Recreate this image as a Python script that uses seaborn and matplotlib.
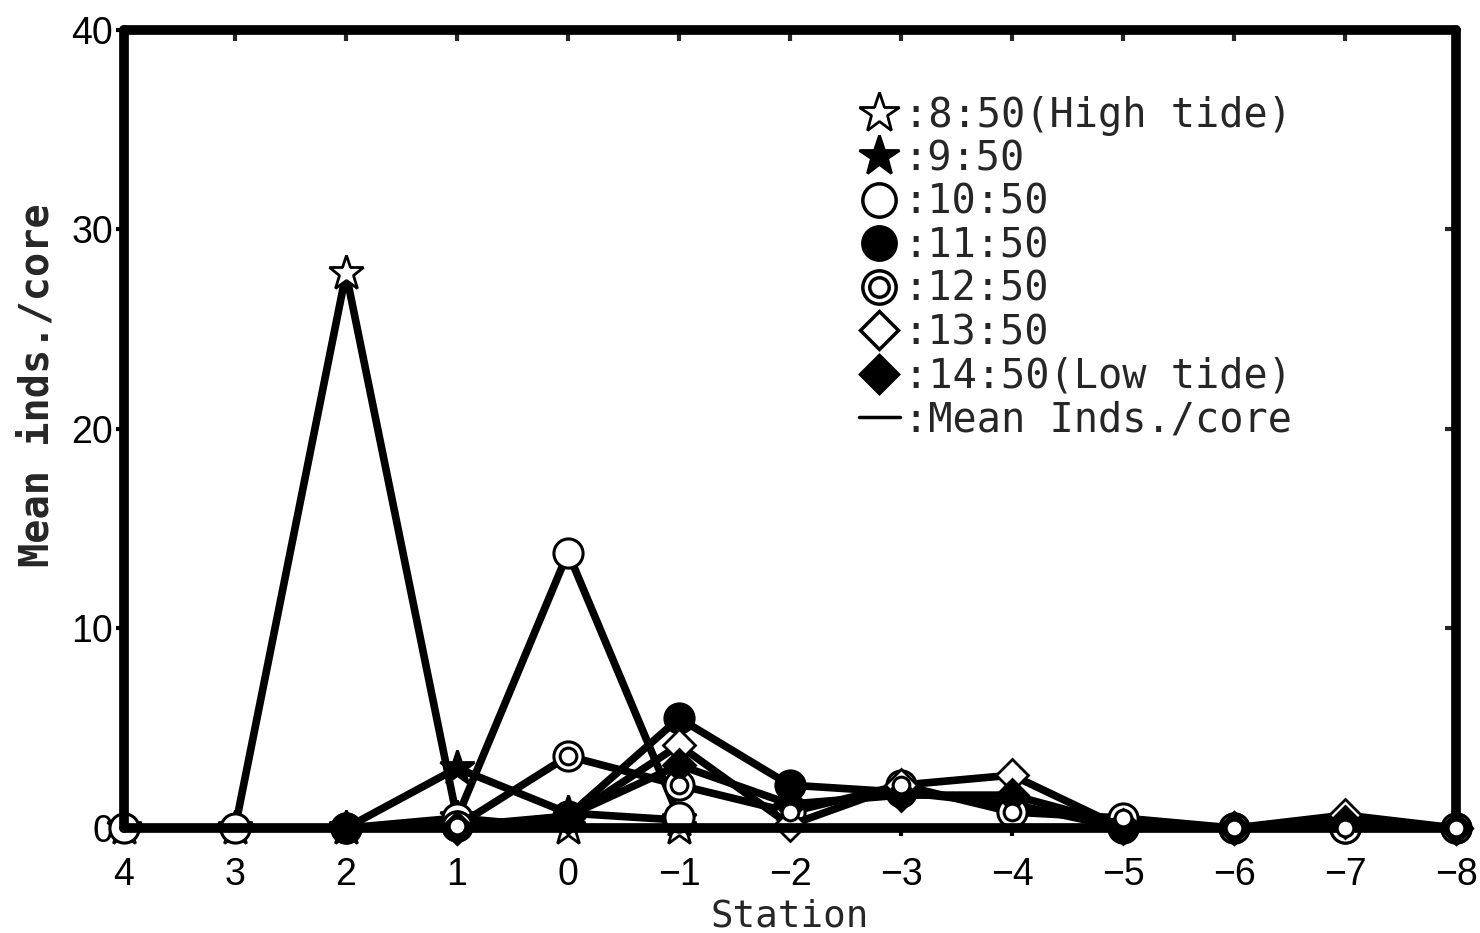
import numpy as np
import pandas as pd
import matplotlib
matplotlib.use("Agg")
import matplotlib.pyplot as plt
from matplotlib.lines import Line2D
from matplotlib.legend_handler import HandlerTuple
import seaborn as sns

nan = np.nan
stations = [4, 3, 2, 1, 0, -1, -2, -3, -4, -5, -6, -7, -8]
tick_labels = ["4", "3", "2", "1", "0", "\u22121", "\u22122", "\u22123", "\u22124",
               "\u22125", "\u22126", "\u22127", "\u22128"]

t0850 = [0, 0, 27.8, 0.5, 0, 0, nan, nan, nan, nan, nan, nan, nan]
t0950 = [nan, nan, 0, 3.0, 0.75, 0.4, nan, nan, nan, nan, nan, nan, nan]
t1050 = [0, 0, 0, 0.5, 13.8, 0.55, nan, nan, nan, nan, nan, nan, nan]
t1150 = [nan, nan, 0, 0.1, 0.6, 5.5, 2.15, 1.8, 1.2, 0, 0, 0, 0]
t1250 = [nan, nan, nan, 0.1, 3.6, 2.15, 0.8, 2.15, 0.8, 0.5, 0, 0, 0]
t1350 = [nan, nan, nan, 0, 0.5, 4.15, 0.15, 2.15, 2.65, 0, 0, 0.65, 0]
t1450 = [nan, nan, nan, 0, 0.6, 3.15, 1.2, 1.65, 1.65, 0.15, 0, 0.3, 0]

labels = [":8:50(High tide)", ":9:50", ":10:50", ":11:50", ":12:50",
          ":13:50", ":14:50(Low tide)", ":Mean Inds./core"]

sns.set_theme(style="white")
plt.rcParams["font.family"] = ["Liberation Sans", "DejaVu Sans"]

fig = plt.figure(figsize=(14.8, 9.33), dpi=100)
ax = fig.add_axes([0.0838, 0.1125, 0.9, 0.8555])

LW = 5.5

def draw(vals, marker, ms, mfc, mew=2.0):
    df = pd.DataFrame({"s": stations, "v": vals}).dropna()
    sns.lineplot(data=df, x="s", y="v", ax=ax, color="black", lw=LW, sort=False,
                 marker=marker, markersize=ms, markerfacecolor=mfc,
                 markeredgecolor="black", markeredgewidth=mew, clip_on=False,
                 estimator=None)
    return df

draw(t0850, "*", 26, "white", 2.0)
draw(t0950, "*", 26, "black", 2.0)
draw(t1050, "o", 21, "white", 2.2)
draw(t1150, "o", 21, "black", 2.2)
df12 = draw(t1250, "o", 21, "white", 2.2)
ax.plot(df12["s"], df12["v"], ls="none", marker="o", ms=12, mfc="white",
        mec="black", mew=2.2, clip_on=False, zorder=3)
draw(t1350, "D", 16, "white", 2.0)
draw(t1450, "D", 16, "black", 2.0)

ax.set_xlim(4, -8)
ax.set_ylim(0, 40)
ax.set_xticks(stations)
ax.set_xticklabels(tick_labels)
ax.set_yticks([0, 10, 20, 30, 40])
ax.set_yticklabels(["0", "10", "20", "30", "40"])

for sp in ax.spines.values():
    sp.set_visible(True)
    sp.set_color("black")
    sp.set_linewidth(7)
    sp.set_capstyle("round")

ax.tick_params(axis="both", which="major", direction="out", length=6, width=3,
               labelsize=27, colors="black", bottom=True, left=True)
ax.tick_params(axis="x", pad=15)
ax.tick_params(axis="y", pad=2)

secx = ax.secondary_xaxis("top")
secx.set_xticks(stations)
secx.tick_params(direction="in", length=8, width=3, labeltop=False)
secx.spines["top"].set_visible(False)
secy = ax.secondary_yaxis("right")
secy.set_yticks([0, 10, 20, 30, 40])
secy.tick_params(direction="in", length=8, width=3, labelright=False)
secy.spines["right"].set_visible(False)

mono = ["DejaVu Sans Mono"]
ax.set_xlabel("Station", fontsize=27, family=mono)
ax.xaxis.set_label_coords(0.5, -0.088)
ax.set_ylabel("Mean inds./core", fontsize=29, family=mono, fontweight="bold")
ax.yaxis.label.set_va("center")
ax.yaxis.set_label_coords(-0.0655, 0.555)

h1 = Line2D([], [], ls="none", marker="*", ms=30, mfc="white", mec="black", mew=2)
h2 = Line2D([], [], ls="none", marker="*", ms=30, mfc="black", mec="black", mew=2)
h3 = Line2D([], [], ls="none", marker="o", ms=24, mfc="white", mec="black", mew=2.5)
h4 = Line2D([], [], ls="none", marker="o", ms=24, mfc="black", mec="black", mew=2.5)
h5a = Line2D([], [], ls="none", marker="o", ms=24, mfc="white", mec="black", mew=2.5)
h5b = Line2D([], [], ls="none", marker="o", ms=14, mfc="white", mec="black", mew=2.5)
h6 = Line2D([], [], ls="none", marker="D", ms=19, mfc="white", mec="black", mew=2.5)
h7 = Line2D([], [], ls="none", marker="D", ms=19, mfc="black", mec="black", mew=2.5)
h8 = Line2D([], [], color="black", lw=2.5)

leg = ax.legend([h1, h2, h3, h4, (h5a, h5b), h6, h7, h8], labels,
                handler_map={tuple: HandlerTuple(ndivide=1, pad=0)},
                loc="upper left", bbox_to_anchor=(0.552, 0.917),
                frameon=False, prop={"family": mono, "size": 29},
                handlelength=1.0, handletextpad=0.1, labelspacing=0.085,
                borderaxespad=0, borderpad=0)

fig.savefig("out.png", dpi=100)
